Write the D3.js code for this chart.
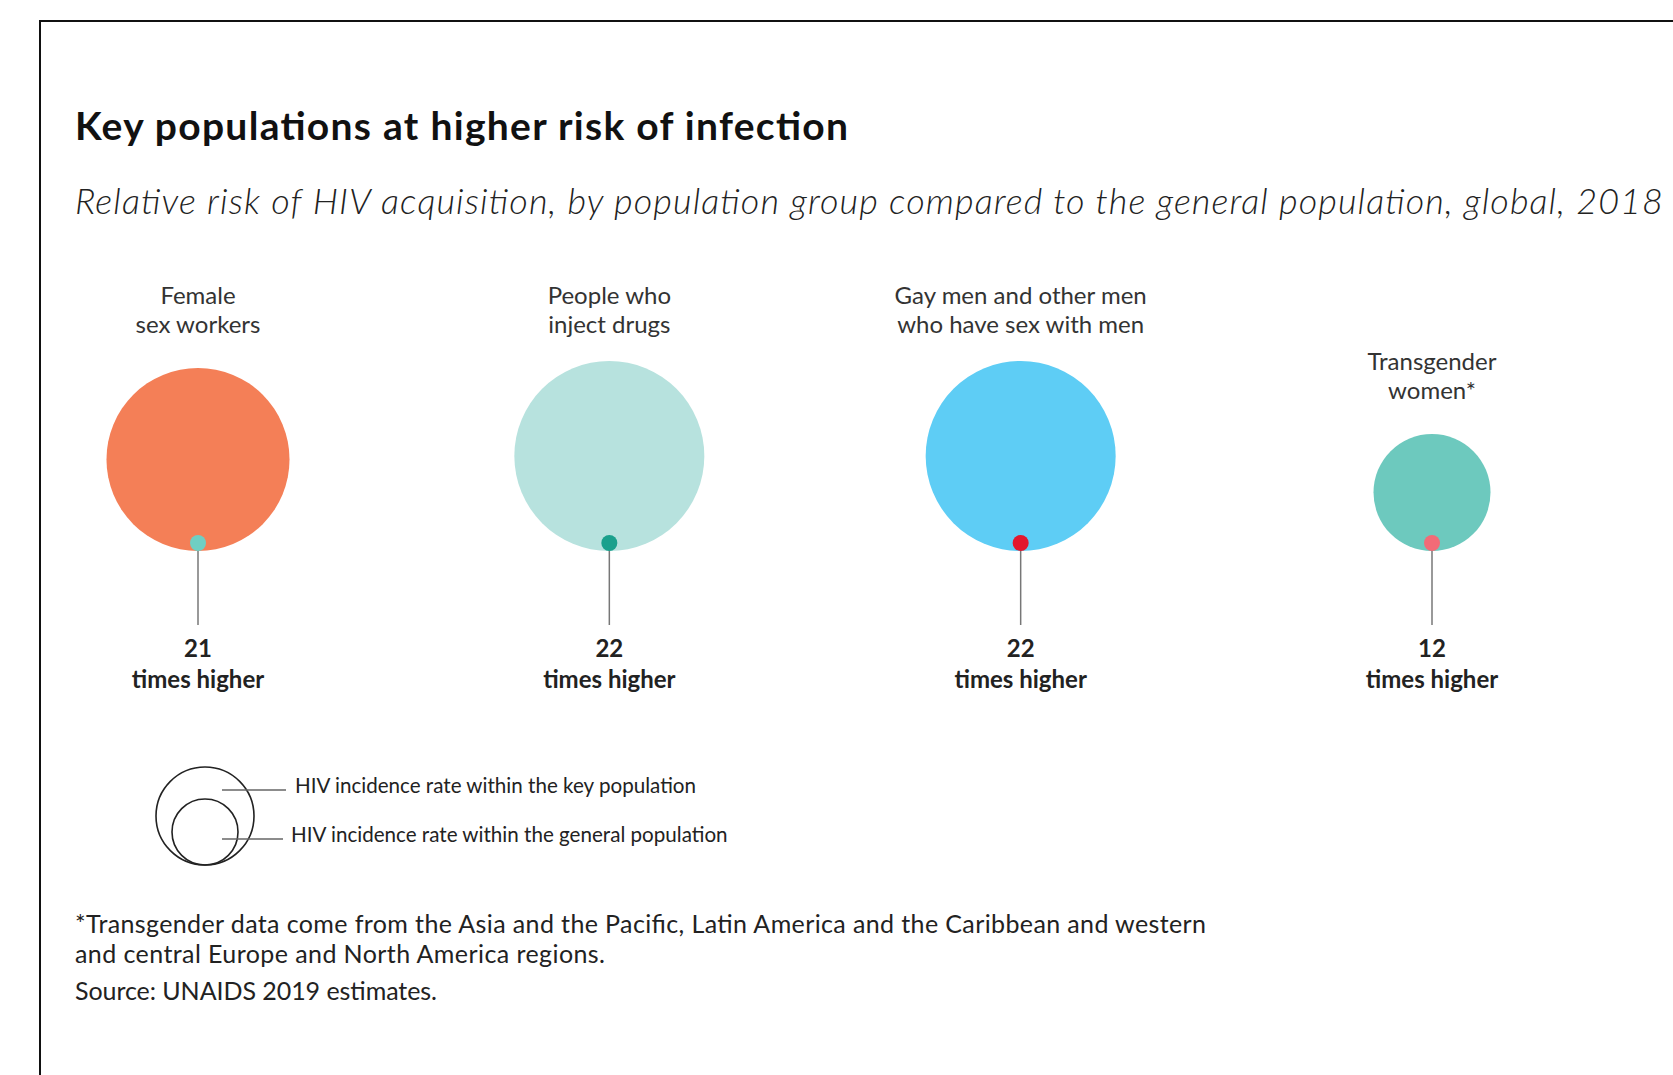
<!DOCTYPE html>
<html>
<head>
<meta charset="utf-8">
<script src="https://cdn.jsdelivr.net/npm/d3@7"></script>
<style>
  body { margin: 0; background: #fff; }
  svg { display: block; font-family: Lato, 'Open Sans', sans-serif; }
</style>
</head>
<body>
<svg id="chart" width="1673" height="1075"></svg>
<script>
const groups = ['Female sex workers', 'People who inject drugs', 'Gay men and other men who have sex with men', 'Transgender women*'];
const labelLines = [['Female', 'sex workers'], ['People who', 'inject drugs'], ['Gay men and other men', 'who have sex with men'], ['Transgender', 'women*']];
const relativeRisk = [21, 22, 22, 12];
const generalRate = [1, 1, 1, 1];
const bigColors = ['#f47f57', '#b7e2de', '#5ecdf5', '#6dc9be'];
const dotColors = ['#6fcfc3', '#1aa08c', '#e3172d', '#f26b77'];
const legendItems = ['HIV incidence rate within the key population', 'HIV incidence rate within the general population'];
const footnotes = ['*Transgender data come from the Asia and the Pacific, Latin America and the Caribbean and western', 'and central Europe and North America regions.'];
const source = 'Source: UNAIDS 2019 estimates.';

const width = 1673;
const height = 1075;
const bottomY = 551;

const svg = d3.select('#chart');

// frame
svg.append('path')
  .attr('d', `M${width},21 H40 V${height}`)
  .attr('fill', 'none')
  .attr('stroke', '#111')
  .attr('stroke-width', 2);

svg.append('text')
  .attr('x', 75)
  .attr('y', 140)
  .attr('font-size', 39)
  .attr('font-weight', 700)
  .attr('fill', '#111')
  .attr('textLength', 773)
  .attr('lengthAdjust', 'spacing')
  .text('Key populations at higher risk of infection');

svg.append('text')
  .attr('x', 75)
  .attr('y', 214)
  .attr('font-size', 36)
  .attr('font-weight', 300)
  .attr('font-style', 'italic')
  .attr('fill', '#222')
  .attr('textLength', 1588)
  .attr('lengthAdjust', 'spacing')
  .text('Relative risk of HIV acquisition, by population group compared to the general population, global, 2018');

const data = groups.map((g, i) => ({
  name: g,
  lines: labelLines[i],
  value: relativeRisk[i],
  base: generalRate[i],
  color: bigColors[i],
  dot: dotColors[i]
}));

const x = d3.scalePoint()
  .domain(groups)
  .range([198, 1432]);

const r = d3.scalePow()
  .exponent(0.8)
  .domain([0, d3.max(relativeRisk)])
  .range([0, 95]);

// big circles share one label row
const rowTop = bottomY - 2 * r(21);

const g = svg.append('g')
  .selectAll('g')
  .data(data)
  .join('g')
  .attr('transform', d => `translate(${x(d.name)},0)`);

g.append('circle')
  .attr('cy', d => bottomY - r(d.value))
  .attr('r', d => r(d.value))
  .attr('fill', d => d.color);

g.append('line')
  .attr('y1', d => bottomY - r(d.base))
  .attr('y2', 625)
  .attr('stroke', '#777')
  .attr('stroke-width', 1.5);

g.append('circle')
  .attr('cy', d => bottomY - r(d.base))
  .attr('r', d => r(d.base))
  .attr('fill', d => d.dot);

g.append('text')
  .attr('text-anchor', 'middle')
  .attr('font-size', 24)
  .attr('fill', '#333')
  .selectAll('tspan')
  .data(d => d.lines.map((t, j) => ({ t, j, top: Math.max(rowTop, bottomY - 2 * r(d.value)) })))
  .join('tspan')
  .attr('x', 0)
  .attr('y', d => d.top - 35 - (1 - d.j) * 29)
  .text(d => d.t);

g.append('text')
  .attr('text-anchor', 'middle')
  .attr('y', 657)
  .attr('font-size', 24)
  .attr('font-weight', 700)
  .attr('fill', '#222')
  .text(d => d.value);

g.append('text')
  .attr('text-anchor', 'middle')
  .attr('y', 688)
  .attr('font-size', 24)
  .attr('font-weight', 700)
  .attr('fill', '#222')
  .text('times higher');

// legend
const legend = svg.append('g').attr('transform', 'translate(205,865)');

legend.selectAll('circle')
  .data([49, 33])
  .join('circle')
  .attr('cy', d => -d)
  .attr('r', d => d)
  .attr('fill', 'none')
  .attr('stroke', '#222')
  .attr('stroke-width', 1.6);

legend.selectAll('line')
  .data(legendItems)
  .join('line')
  .attr('x1', 17)
  .attr('x2', (d, i) => i ? 78 : 81)
  .attr('y1', (d, i) => i ? -26 : -75)
  .attr('y2', (d, i) => i ? -26 : -75)
  .attr('stroke', '#666')
  .attr('stroke-width', 1.5);

legend.selectAll('text')
  .data(legendItems)
  .join('text')
  .attr('x', (d, i) => i ? 86 : 90)
  .attr('y', (d, i) => i ? -23 : -72)
  .attr('font-size', 20.6)
  .attr('fill', '#222')
  .text(d => d);

svg.append('g')
  .selectAll('text')
  .data(footnotes.concat([source]))
  .join('text')
  .attr('x', 75)
  .attr('y', (d, i) => [933, 963, 1000][i])
  .attr('font-size', 25)
  .attr('fill', '#222')
  .attr('textLength', (d, i) => [1131, 530, 362][i])
  .attr('lengthAdjust', 'spacing')
  .text(d => d);
</script>
</body>
</html>
